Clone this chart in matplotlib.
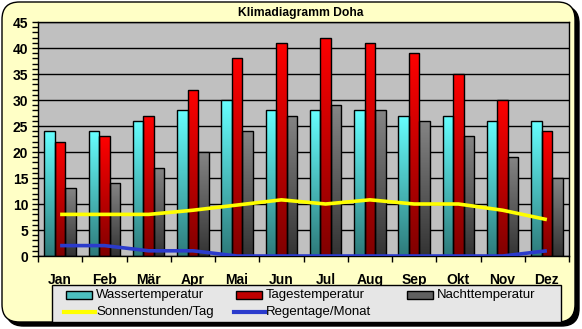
import numpy as np
import matplotlib
matplotlib.use("Agg")
import matplotlib.pyplot as plt
from matplotlib.colors import LinearSegmentedColormap
from matplotlib.patches import FancyBboxPatch, Rectangle
from matplotlib.lines import Line2D
from matplotlib.ticker import MultipleLocator

plt.rcParams['font.family'] = ['Liberation Sans', 'DejaVu Sans']

months = ["Jan", "Feb", "Mär", "Apr", "Mai", "Jun", "Jul", "Aug", "Sep", "Okt", "Nov", "Dez"]
wasser = [24, 24, 26, 28, 30, 28, 28, 28, 27, 27, 26, 26]
tages = [22, 23, 27, 32, 38, 41, 42, 41, 39, 35, 30, 24]
nacht = [13, 14, 17, 20, 24, 27, 29, 28, 26, 23, 19, 15]
sonne = [8, 8, 8, 8.8, 9.8, 10.8, 10, 10.8, 10, 10, 8.8, 7]
regen = [2, 2, 1, 1, 0, 0, 0, 0, 0, 0, 0, 1]
series_names = ["Wassertemperatur", "Tagestemperatur", "Nachttemperatur",
                "Sonnenstunden/Tag", "Regentage/Monat"]

W, H = 582, 329
fig = plt.figure(figsize=(W / 100, H / 100), dpi=100)
fig.patch.set_facecolor("white")


def fx(px):
    return px / W


def fy(py):
    return 1 - py / H


# background panel with shadow
shadow = FancyBboxPatch((fx(6), fy(326)), 573 / W, 320 / H,
                        boxstyle="round,pad=0,rounding_size=0.03",
                        transform=fig.transFigure, facecolor="black",
                        edgecolor="black", zorder=-3, mutation_aspect=W / H)
panel = FancyBboxPatch((fx(2), fy(322)), 573 / W, 320 / H,
                       boxstyle="round,pad=0,rounding_size=0.03",
                       transform=fig.transFigure, facecolor="#FFFFC6",
                       edgecolor="black", linewidth=1.0, zorder=-2,
                       mutation_aspect=W / H)
fig.patches.extend([shadow, panel])

ax = fig.add_axes([fx(38), fy(256), 531 / W, 234 / H])
ax.set_facecolor("#C0C0C0")

x = np.arange(len(months))
bw = 0.237

c_w = ["#2E7A7A", "#66FFFF"]
c_t = ["#800000", "#FF0000"]
c_n = ["#333333", "#858585"]
grad = np.linspace(0, 1, 256).reshape(-1, 1)

for off, vals, cols in [(-bw, wasser, c_w), (0, tages, c_t), (bw, nacht, c_n)]:
    cm = LinearSegmentedColormap.from_list("g", cols)
    bars = ax.bar(x + off, vals, width=bw, facecolor="none", edgecolor="black",
                  linewidth=1.0, zorder=3)
    for r in bars:
        im = ax.imshow(grad, extent=[r.get_x(), r.get_x() + r.get_width(), 0, r.get_height()],
                       origin="lower", aspect="auto", cmap=cm, zorder=2.5,
                       interpolation="bilinear")
        im.set_clip_path(r)

ax.plot(x, sonne, color="#FFFF00", linewidth=2.6, zorder=4, solid_capstyle="butt")
ax.plot(x, regen, color="#2B3BCC", linewidth=2.6, zorder=4, solid_capstyle="butt")

ax.set_xlim(-0.5, 11.5)
ax.set_ylim(0, 45)
ax.yaxis.set_major_locator(MultipleLocator(5))
ax.yaxis.set_minor_locator(MultipleLocator(1))
ax.grid(axis="y", which="major", color="black", linewidth=1.0, zorder=1)
ax.set_axisbelow(True)

ax.set_xticks(x)
ax.set_xticklabels(months, fontweight="bold", fontsize=10)
ax.set_xticks(np.arange(-0.5, 12, 1), minor=True)
ax.tick_params(axis="x", which="major", length=0, pad=12)
ax.tick_params(axis="x", which="minor", length=4, width=1, direction="out")
ax.tick_params(axis="y", which="major", length=4, width=1, labelsize=10, pad=3)
ax.tick_params(axis="y", which="minor", length=4, width=1)
for lab in ax.get_yticklabels():
    lab.set_fontweight("bold")
for s in ax.spines.values():
    s.set_linewidth(1.0)
    s.set_color("black")

fig.text(fx(301), fy(13), "Klimadiagramm Doha", ha="center", va="center",
         fontsize=8.7, fontweight="bold")

# legend (drawn manually to match fixed column layout)
frame = Rectangle((fx(52), fy(322)), 509 / W, 37 / H, transform=fig.transFigure,
                  facecolor="#E6E6E6", edgecolor="black", linewidth=1.0, zorder=5)
fig.patches.append(frame)

entries = [
    ("bar", "#4CBFBF", series_names[0], 66, 295),
    ("bar", "#C00000", series_names[1], 236, 295),
    ("bar", "#606060", series_names[2], 407, 295),
    ("line", "#FFFF00", series_names[3], 66, 312),
    ("line", "#2B3BCC", series_names[4], 236, 312),
]
for kind, col, name, hx, hy in entries:
    if kind == "bar":
        p = Rectangle((fx(hx), fy(hy + 4)), 26 / W, 8 / H, transform=fig.transFigure,
                      facecolor=col, edgecolor="black", linewidth=1.0, zorder=6)
        fig.patches.append(p)
    else:
        ln = Line2D([fx(hx - 2), fx(hx + 29)], [fy(hy), fy(hy)], transform=fig.transFigure,
                    color=col, linewidth=3, zorder=6)
        fig.lines.append(ln)
    fig.text(fx(hx + 30), fy(hy), name, ha="left", va="center", fontsize=9.5, zorder=7)

fig.savefig("out.png", dpi=100)
